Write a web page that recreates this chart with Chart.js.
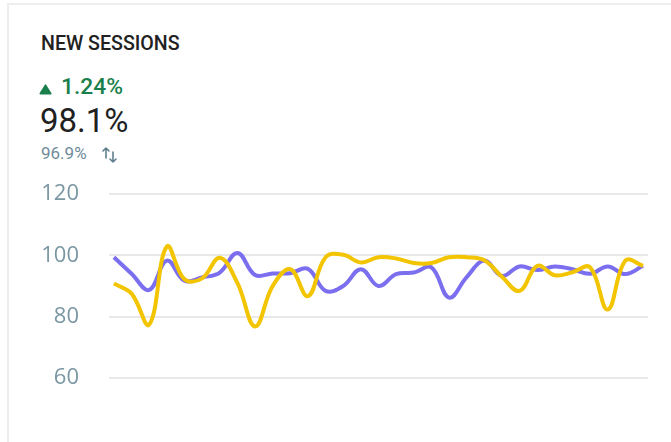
<!DOCTYPE html>
<html>
<head>
<meta charset="utf-8">
<script src="https://cdn.jsdelivr.net/npm/chart.js@4"></script>
<style>
  html, body { margin: 0; padding: 0; background: #fff; width: 671px; height: 442px; overflow: hidden; }
  .card { position: absolute; left: 7px; top: 3px; width: 720px; height: 500px; border: 2px solid #eeeeee; box-sizing: border-box; }
  .t { position: absolute; line-height: 1; font-family: Roboto, sans-serif; white-space: nowrap; }
  #title { left: 41px; top: 34px; font-size: 19.6px; font-weight: 500; color: #212121; }
  #delta { left: 61px; top: 76px; font-size: 22.8px; font-weight: 500; color: #1a7f4b; }
  #value { left: 40px; top: 104px; font-size: 33px; color: #212121; }
  #prev { left: 41px; top: 145px; font-size: 17px; color: #6f8c99; }
  #tri { position: absolute; left: 39px; top: 84px; }
  #swap { position: absolute; left: 101px; top: 146px; }
  #chart { position: absolute; left: 0; top: 151px; }
</style>
</head>
<body>
<div class="card"></div>
<div class="t" id="title">NEW SESSIONS</div>
<svg id="tri" width="13" height="11" viewBox="0 0 13 11"><path d="M6.5 1.2 L11.8 9.6 L1.2 9.6 Z" fill="#1a7f4b" stroke="#1a7f4b" stroke-width="1.6" stroke-linejoin="round"/></svg>
<div class="t" id="delta">1.24%</div>
<div class="t" id="value">98.1%</div>
<div class="t" id="prev">96.9%</div>
<svg id="swap" width="18" height="18" viewBox="0 0 18 18" fill="none" stroke="#5f7f8d" stroke-width="1.6" stroke-linecap="round" stroke-linejoin="round">
  <path d="M5 12 L5 2 M2 5 L5 2 L8 5"/>
  <path d="M12 6 L12 16 M9 13 L12 16 L15 13"/>
</svg>
<canvas id="chart" width="671" height="270"></canvas>
<script>
// days of the period
const days = [1, 2, 3, 4, 5, 6, 7, 8, 9, 10, 11, 12, 13, 14, 15, 16, 17, 18, 19, 20, 21, 22, 23, 24, 25, 26, 27, 28, 29, 30, 31];

// current period (yellow)
const currentValues = [90.8, 87.5, 77.4, 102.9, 92.2, 92.5, 99.2, 91, 76.8, 90, 95.5, 86.7, 99.4, 100.2, 97.7, 99.4,
  99, 97.5, 97.5, 99.4, 99.4, 98.4, 93, 88.4, 96.6, 93.5, 94.5, 96.1, 82.3, 98.3, 96.6];

// previous period (purple)
const previousValues = [99.4, 94, 88.7, 98.3, 91.7, 92.8, 94.4, 100.8, 93.6, 94.1, 94.2, 95.6, 88.4, 90, 95.5, 90,
  93.9, 94.4, 96.1, 86.2, 92.9, 98.3, 93.3, 96.4, 95.2, 96.4, 95.5, 94, 96.4, 93.9, 96.6];

const yTicks = [60, 80, 100, 120];

const ctx = document.getElementById('chart').getContext('2d');

const toPoints = (vals) => vals.map((v, i) => ({ x: days[i], y: v }));

new Chart(ctx, {
  type: 'line',
  data: {
    datasets: [{
      label: 'Current',
      data: toPoints(currentValues),
      borderColor: '#f2c500',
      borderWidth: 4,
      tension: 0.4,
      pointRadius: 0,
      fill: false
    }, {
      label: 'Previous',
      data: toPoints(previousValues),
      borderColor: '#7b6ff0',
      borderWidth: 4,
      tension: 0.4,
      pointRadius: 0,
      fill: false
    }]
  },
  options: {
    responsive: false,
    animation: false,
    layout: { padding: { top: 25, right: 23, bottom: 23, left: 0 } },
    plugins: { legend: { display: false }, tooltip: { enabled: false } },
    scales: {
      x: {
        type: 'linear',
        display: false,
        min: days[0] - 0.28,
        max: days[days.length - 1] + 0.28
      },
      y: {
        min: yTicks[0],
        max: yTicks[yTicks.length - 1],
        afterBuildTicks: (scale) => { scale.ticks = yTicks.map(v => ({ value: v })); },
        afterFit: (scale) => { scale.width = 109; },
        border: { display: false },
        grid: { color: '#e8e8e8', lineWidth: 2, drawTicks: false },
        ticks: {
          padding: 30,
          color: '#7a97a3',
          font: { family: 'Open Sans', size: 22 }
        }
      }
    }
  }
});
</script>
</body>
</html>
